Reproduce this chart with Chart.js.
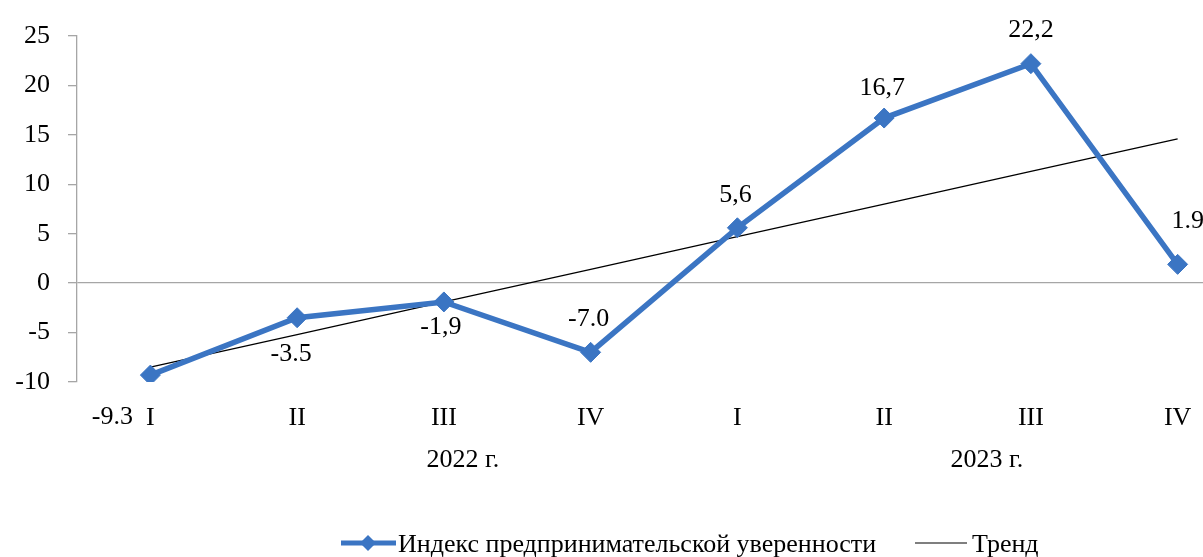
<!DOCTYPE html>
<html>
<head>
<meta charset="utf-8">
<script src="https://cdn.jsdelivr.net/npm/chart.js@4/dist/chart.umd.min.js"></script>
<style>
    html, body { margin: 0; padding: 0; background: #fff; overflow: hidden; }
    #wrap { width: 1262px; height: 557px; }
</style>
</head>
<body>
<div id="wrap"><canvas id="confidenceChart" width="1262" height="557"></canvas></div>
<script>
// Chart data
const quarters = ['I', 'II', 'III', 'IV', 'I', 'II', 'III', 'IV'];
const years = ['2022 г.', '2023 г.'];
const indexValues = [-9.3, -3.5, -1.9, -7.0, 5.6, 16.7, 22.2, 1.9];
const indexLabels = ['-9.3', '-3.5', '-1,9', '-7.0', '5,6', '16,7', '22,2', '1.9'];
const trendValues = [-8.5, -5.2, -1.9, 1.4, 4.7, 8.0, 11.3, 14.6];
const yTicks = [-10, -5, 0, 5, 10, 15, 20, 25];

// Layout (not data): label offsets from each point, year label centres in category units
const labelOffsets = [[-38, 40], [-6, 34], [-3, 23], [-2, -35], [-2, -35], [-2, -32], [0, -36], [10, -45]];
const yearCenters = [2.13, 5.70];

const FONT = '"Liberation Serif", "Times New Roman", serif';
const BLUE = '#3b75c3';
const AXIS_GREY = '#a6a6a6';

document.addEventListener('DOMContentLoaded', function() {
    initializeConfidenceChart();
});

// data labels + year labels + legend, drawn on the canvas
const annotationsPlugin = {
    id: 'annotations',
    afterDatasetsDraw(chart) {
        const ctx = chart.ctx;
        const meta = chart.getDatasetMeta(0);
        ctx.save();
        ctx.fillStyle = '#000';
        ctx.font = '26px ' + FONT;
        ctx.textAlign = 'center';
        ctx.textBaseline = 'alphabetic';
        meta.data.forEach((pt, i) => {
            const off = labelOffsets[i];
            ctx.fillText(indexLabels[i], pt.x + off[0], pt.y + off[1] + 9);
        });

        // year labels under the quarters
        const xScale = chart.scales.x;
        years.forEach((yr, i) => {
            ctx.fillText(yr, xScale.getPixelForValue(yearCenters[i]), 467);
        });

        // legend
        const ly = 543;
        ctx.strokeStyle = BLUE;
        ctx.lineWidth = 5;
        ctx.beginPath();
        ctx.moveTo(341, ly);
        ctx.lineTo(396, ly);
        ctx.stroke();
        ctx.fillStyle = BLUE;
        ctx.beginPath();
        ctx.moveTo(368 - 8, ly);
        ctx.lineTo(368, ly - 8);
        ctx.lineTo(368 + 8, ly);
        ctx.lineTo(368, ly + 8);
        ctx.closePath();
        ctx.fill();

        ctx.strokeStyle = '#000';
        ctx.lineWidth = 1.2;
        ctx.beginPath();
        ctx.moveTo(915, ly);
        ctx.lineTo(967, ly);
        ctx.stroke();

        ctx.fillStyle = '#000';
        ctx.textAlign = 'left';
        ctx.fillText(chart.data.datasets[0].label, 398, 552);
        ctx.fillText(chart.data.datasets[1].label, 972, 552);
        ctx.restore();
    }
};

function initializeConfidenceChart() {
    const ctx = document.getElementById('confidenceChart');
    if (!ctx) return;

    new Chart(ctx, {
        type: 'line',
        data: {
            labels: quarters,
            datasets: [{
                label: 'Индекс предпринимательской уверенности',
                data: indexValues,
                borderColor: BLUE,
                backgroundColor: BLUE,
                borderWidth: 5.5,
                pointStyle: 'rectRot',
                pointRadius: 10,
                pointBorderWidth: 1,
                pointBackgroundColor: BLUE,
                pointBorderColor: BLUE,
                tension: 0,
                order: 1
            }, {
                label: 'Тренд',
                data: trendValues,
                borderColor: '#000',
                borderWidth: 1.3,
                pointRadius: 0,
                tension: 0,
                order: 2
            }]
        },
        options: {
            responsive: false,
            animation: false,
            layout: {
                padding: { top: 36, left: 0, right: 1, bottom: 0 }
            },
            plugins: {
                legend: { display: false },
                tooltip: { enabled: false }
            },
            scales: {
                x: {
                    offset: true,
                    grid: { display: false, drawTicks: false },
                    border: { display: false },
                    ticks: {
                        color: '#000',
                        font: { family: FONT, size: 26 },
                        padding: 21,
                        maxRotation: 0,
                        autoSkip: false
                    },
                    afterFit: function(scale) { scale.height = 175; }
                },
                y: {
                    min: -10,
                    max: 25,
                    afterBuildTicks: function(scale) {
                        scale.ticks = yTicks.map(v => ({ value: v }));
                    },
                    grid: {
                        drawOnChartArea: true,
                        drawTicks: true,
                        tickLength: 9,
                        tickColor: AXIS_GREY,
                        color: c => (c.tick && c.tick.value === 0 ? AXIS_GREY : 'rgba(0,0,0,0)'),
                        lineWidth: 1.3
                    },
                    border: { display: true, color: AXIS_GREY, width: 1.3 },
                    ticks: {
                        color: '#000',
                        font: { family: FONT, size: 26 },
                        padding: 18
                    },
                    afterFit: function(scale) { scale.width = 77; }
                }
            }
        },
        plugins: [annotationsPlugin]
    });
}
</script>
</body>
</html>
